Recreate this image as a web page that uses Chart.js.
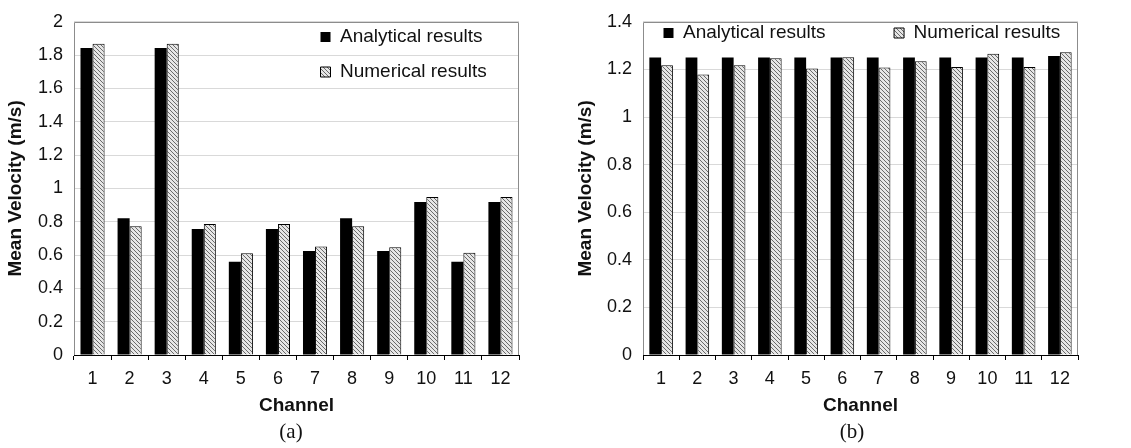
<!DOCTYPE html>
<html>
<head>
<meta charset="utf-8">
<script src="https://cdn.jsdelivr.net/npm/chart.js@4.4.1/dist/chart.umd.min.js"></script>
<style>
  html, body { margin: 0; padding: 0; background: #fff; }
  #page { position: relative; width: 1131px; height: 448px; overflow: hidden; }
  canvas { position: absolute; top: 0; }
  #chartA { left: 0; }
  #chartB { left: 560px; }
  .caption {
    position: absolute; top: 419px; width: 60px; margin-left: -30px;
    text-align: center; font-family: "Liberation Serif", serif; font-size: 21px; color: #111;
  }
</style>
</head>
<body>
<div id="page">
  <canvas id="chartA" width="560" height="448"></canvas>
  <canvas id="chartB" width="571" height="448"></canvas>
  <div class="caption" style="left: 291px;">(a)</div>
  <div class="caption" style="left: 852px;">(b)</div>
</div>
<script>
const channels = ["1", "2", "3", "4", "5", "6", "7", "8", "9", "10", "11", "12"];

// panel (a)
const analyticalA = [1.843, 0.821, 1.843, 0.757, 0.559, 0.757, 0.624, 0.821, 0.624, 0.918, 0.559, 0.918];
const numericalA = [1.868, 0.773, 1.868, 0.786, 0.610, 0.786, 0.651, 0.773, 0.647, 0.949, 0.614, 0.949];
const yTicksA = ["0", "0.2", "0.4", "0.6", "0.8", "1", "1.2", "1.4", "1.6", "1.8", "2"];

// panel (b)
const analyticalB = [1.25, 1.25, 1.25, 1.25, 1.25, 1.25, 1.25, 1.25, 1.25, 1.25, 1.25, 1.256];
const numericalB = [1.217, 1.179, 1.217, 1.247, 1.204, 1.251, 1.208, 1.234, 1.21, 1.266, 1.21, 1.272];
const yTicksB = ["0", "0.2", "0.4", "0.6", "0.8", "1", "1.2", "1.4"];

const FONT = "'Liberation Sans', Arial, sans-serif";
const TEXT = "#111";

function hatchPattern(ctx) {
  const tile = document.createElement("canvas");
  tile.width = 4;
  tile.height = 4;
  const t = tile.getContext("2d");
  t.fillStyle = "#e6e6e6";
  t.fillRect(0, 0, 4, 4);
  t.fillStyle = "#6a6a6a";
  for (let i = 0; i < 4; i++) t.fillRect(i, i, 1, 1);
  return ctx.createPattern(tile, "repeat");
}

// grey frame on top/left/right of the plot area, x axis stays black
const plotFrame = {
  id: "plotFrame",
  beforeDatasetsDraw(chart) {
    const { ctx, chartArea: a } = chart;
    ctx.save();
    ctx.strokeStyle = "#8c8c8c";
    ctx.lineWidth = 1;
    ctx.beginPath();
    ctx.moveTo(Math.round(a.left) + 0.5, Math.round(a.bottom));
    ctx.lineTo(Math.round(a.left) + 0.5, Math.round(a.top) + 0.5);
    ctx.lineTo(Math.round(a.right) - 0.5, Math.round(a.top) + 0.5);
    ctx.lineTo(Math.round(a.right) - 0.5, Math.round(a.bottom));
    ctx.stroke();
    ctx.restore();
  },
};

// legend sits inside the plot area, so move its box after layout
const legendAt = {
  id: "legendAt",
  afterLayout(chart, _args, opts) {
    const l = chart.legend;
    l.left = opts.x;
    l.top = opts.y;
    l.width = opts.w;
    l.height = opts.h;
    l.right = opts.x + opts.w;
    l.bottom = opts.y + opts.h;
  },
};

function makeChart(id, cfg) {
  const canvas = document.getElementById(id);
  const ctx = canvas.getContext("2d");

  new Chart(ctx, {
    type: "bar",
    data: {
      labels: channels,
      datasets: [
        {
          label: "Analytical results",
          data: cfg.analytical,
          backgroundColor: "#000",
          borderWidth: 0,
        },
        {
          label: "Numerical results",
          data: cfg.numerical,
          backgroundColor: hatchPattern(ctx),
          borderColor: "#000",
          borderWidth: 1,
        },
      ],
    },
    plugins: [plotFrame, legendAt],
    options: {
      responsive: false,
      animation: false,
      devicePixelRatio: 1,
      layout: { padding: { top: cfg.padTop, right: cfg.padRight, bottom: 28, left: 0 } },
      datasets: {
        bar: { barPercentage: 1, categoryPercentage: 0.65 },
      },
      scales: {
        x: {
          afterFit: (scale) => { scale.height = 65; },
          grid: {
            offset: true,
            drawOnChartArea: false,
            drawTicks: true,
            tickLength: 5,
            tickColor: "#000",
          },
          border: { color: "#000", width: 1 },
          ticks: { color: TEXT, padding: 8, font: { family: FONT, size: 18 } },
          title: {
            display: true,
            text: "Channel",
            color: TEXT,
            padding: { top: 0, bottom: 3 },
            font: { family: FONT, size: 19, weight: "bold" },
          },
        },
        y: {
          min: 0,
          max: cfg.yMax,
          afterFit: (scale) => { scale.width = cfg.yWidth; },
          grid: { color: "#d9d9d9", drawTicks: false },
          border: { display: false },
          ticks: {
            stepSize: 0.2,
            padding: 11,
            color: TEXT,
            font: { family: FONT, size: 18 },
            callback: (_value, index) => cfg.yTicks[index],
          },
          title: {
            display: true,
            text: "Mean Velocity (m/s)",
            color: TEXT,
            padding: { top: cfg.titlePad, bottom: 0 },
            font: { family: FONT, size: 19, weight: "bold" },
          },
        },
      },
      plugins: {
        tooltip: { enabled: false },
        legend: {
          position: cfg.legendPosition,
          align: "start",
          maxHeight: 1,
          labels: {
            color: TEXT,
            boxWidth: 10,
            boxHeight: 10,
            padding: cfg.legendPad,
            font: { family: FONT, size: 19 },
          },
        },
        legendAt: cfg.legendBox,
      },
    },
  });
}

makeChart("chartA", {
  analytical: analyticalA,
  numerical: numericalA,
  yTicks: yTicksA,
  yMax: 2,
  yWidth: 74,
  titlePad: 4.6,
  padTop: 16,
  padRight: 41,
  legendPosition: "chartArea",
  legendPad: 16,
  legendBox: { x: 304.5, y: 11.5, w: 240, h: 120 },
});

makeChart("chartB", {
  analytical: analyticalB,
  numerical: numericalB,
  yTicks: yTicksB,
  yMax: 1.4,
  yWidth: 83,
  titlePad: 14.6,
  padTop: 15,
  padRight: 53,
  legendPosition: "top",
  legendPad: 68.5,
  legendBox: { x: 35, y: -45, w: 600, h: 120 },
});
</script>
</body>
</html>
